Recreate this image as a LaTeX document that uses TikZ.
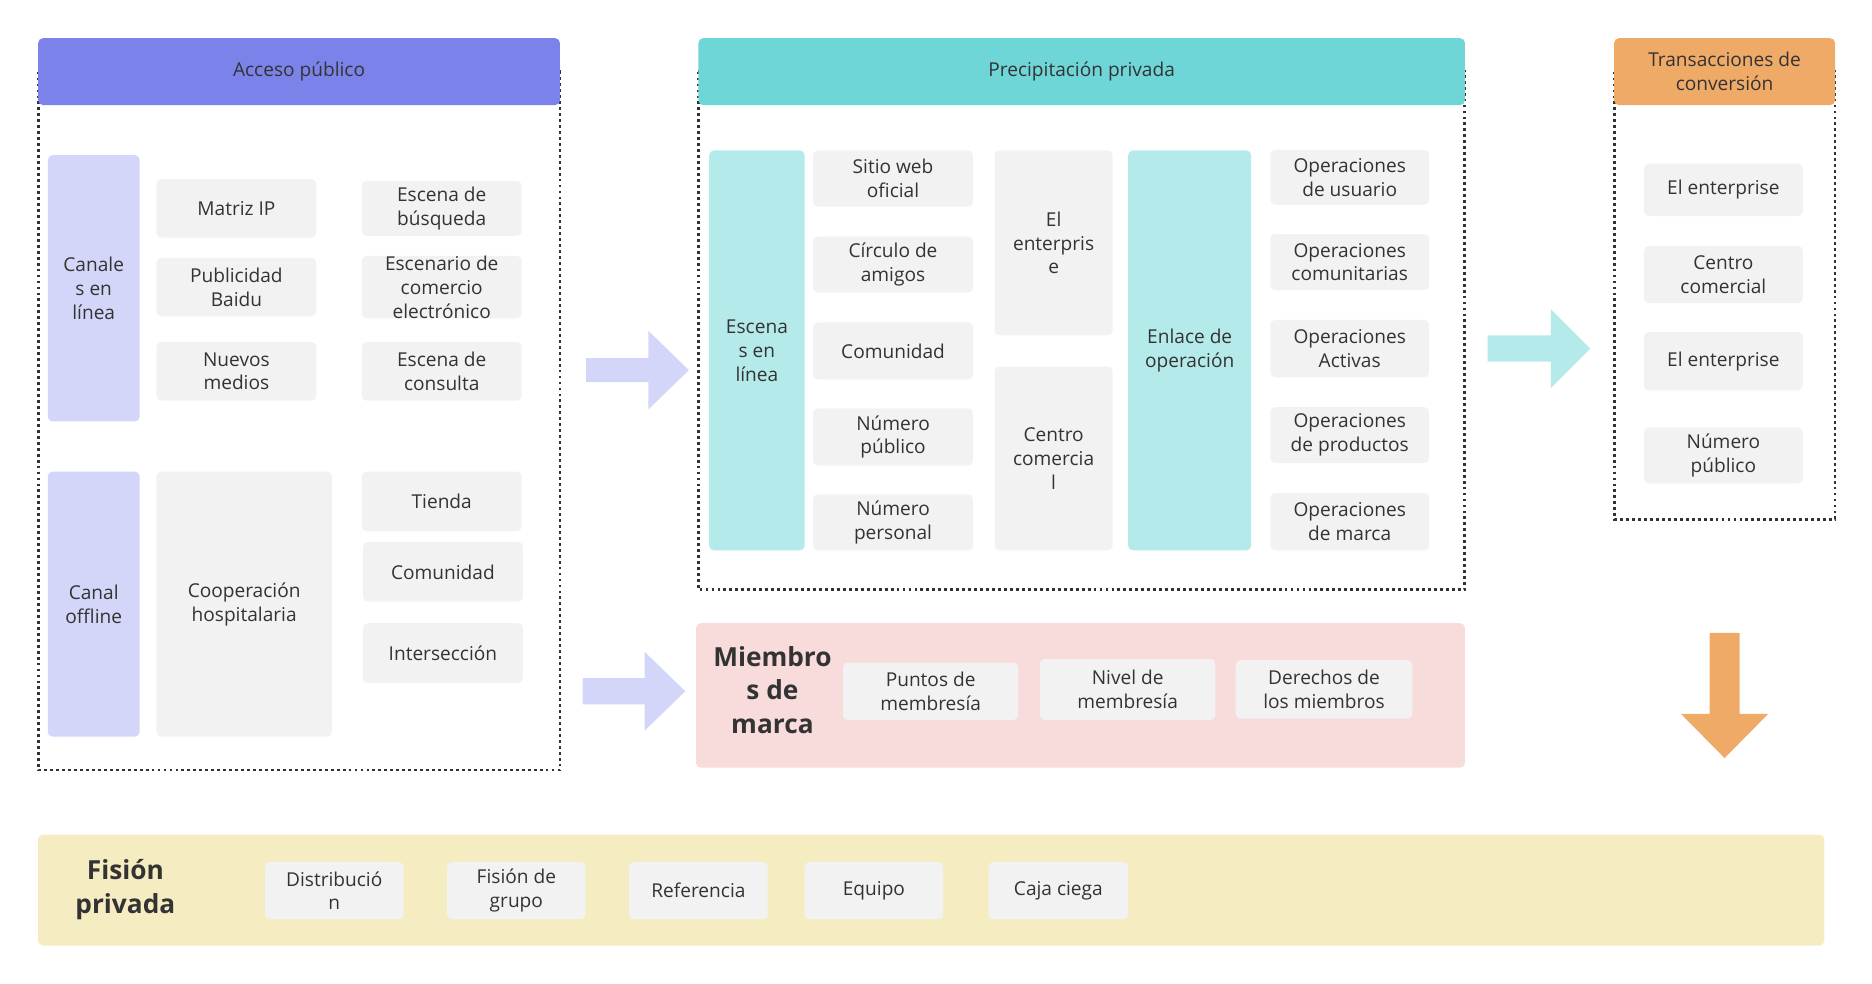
\documentclass[tikz,border=0pt]{standalone}
\usepackage{fontspec}
\setmainfont{Open Sans}
\usepackage{tikz}
\usetikzlibrary{positioning}

\definecolor{txt}{HTML}{333333}
\definecolor{cellgray}{HTML}{F2F2F2}
\definecolor{hdrblue}{HTML}{7B83EB}
\definecolor{lav}{HTML}{D3D6F8}
\definecolor{hdrcyan}{HTML}{6FD6D7}
\definecolor{lcyan}{HTML}{B5EAEA}
\definecolor{hdrorange}{HTML}{F0AA68}
\definecolor{lpink}{HTML}{F8DBDB}
\definecolor{lyellow}{HTML}{F5EDC1}

\begin{document}
\begin{tikzpicture}[
    x=1pt, y=-1pt,
    every node/.style={align=center, text=txt, inner sep=0pt, font=\fontsize{16}{20}\selectfont},
    hdr/.style={fill=#1, rounded corners=4pt, minimum height=56},
    cell/.style={fill=cellgray, rounded corners=4pt},
    side/.style={fill=#1, rounded corners=4pt},
    dotframe/.style={draw=txt, line width=2.4pt, dash pattern=on 2.4pt off 2.6pt},
    big/.style={font=\fontsize{22}{28}\selectfont\bfseries}
]
\useasboundingbox (0,0) rectangle (1568,824);

% Acceso publico
\draw[dotframe] (32,60) rectangle (469,645);
\node[hdr=hdrblue, minimum width=437] (acceso) at (250.5,60) {Acceso público};
\node[side=lav, minimum width=77, minimum height=223] (canales) at (78.5,241.5) {Canale\\s en\\línea};
\node[cell, minimum width=134, minimum height=49] (matriz) at (198,174.5) {Matriz IP};
\node[cell, minimum width=134, minimum height=49] (baidu) at (198,240.5) {Publicidad\\Baidu};
\node[cell, minimum width=134, minimum height=49] (nuevos) at (198,311) {Nuevos\\medios};
\node[cell, minimum width=134, minimum height=46] (busqueda) at (370,174.5) {Escena de\\búsqueda};
\node[cell, minimum width=134, minimum height=49] (ecom) at (370,240.5) {Escenario de\\comercio\\electrónico};
\node[cell, minimum width=134, minimum height=49] (consulta) at (370,311) {Escena de\\consulta};
\node[side=lav, minimum width=77, minimum height=222] (offline) at (78.5,506) {Canal\\offline};
\node[cell, minimum width=147, minimum height=222] (hospital) at (204.5,506) {Cooperación\\hospitalaria};
\node[cell, minimum width=134, minimum height=50] (tienda) at (370,420) {Tienda};
\node[cell, minimum width=134, minimum height=50] (comunidadA) at (371,479) {Comunidad};
\node[cell, minimum width=134, minimum height=50] (interseccion) at (371,547) {Intersección};

% Precipitacion privada
\draw[dotframe] (585,60) rectangle (1227,494);
\node[hdr=hdrcyan, minimum width=642] (precip) at (906,60) {Precipitación privada};
\node[side=lcyan, minimum width=80, minimum height=335] (escenas) at (634,293.5) {Escena\\s en\\línea};
\node[cell, minimum width=134, minimum height=47] (sitio) at (748,149.5) {Sitio web\\oficial};
\node[cell, minimum width=134, minimum height=47] (circulo) at (748,221.5) {Círculo de\\amigos};
\node[cell, minimum width=134, minimum height=48] (comunidadB) at (748,294) {Comunidad};
\node[cell, minimum width=134, minimum height=48] (numpub) at (748,366) {Número\\público};
\node[cell, minimum width=134, minimum height=47] (numper) at (748,437.5) {Número\\personal};
\node[cell, minimum width=99, minimum height=155] (enterprise) at (882.5,203.5) {El\\enterpris\\e};
\node[cell, minimum width=99, minimum height=154] (centro) at (882.5,384) {Centro\\comercia\\l};
\node[side=lcyan, minimum width=103, minimum height=335] (enlace) at (996.5,293.5) {Enlace de\\operación};
\node[cell, minimum width=133, minimum height=46] (opusuario) at (1130.5,148.5) {Operaciones\\de usuario};
\node[cell, minimum width=133, minimum height=47] (opcomun) at (1130.5,219.5) {Operaciones\\comunitarias};
\node[cell, minimum width=133, minimum height=48] (opactiv) at (1130.5,292) {Operaciones\\Activas};
\node[cell, minimum width=133, minimum height=47] (opprod) at (1130.5,364.5) {Operaciones\\de productos};
\node[cell, minimum width=133, minimum height=48] (opmarca) at (1130.5,437) {Operaciones\\de marca};

% Transacciones de conversion
\draw[dotframe] (1352,60) rectangle (1537,435);
\node[hdr=hdrorange, minimum width=185] (trans) at (1444.5,60) {Transacciones de\\conversión};
\node[cell, minimum width=133, minimum height=44] (entA) at (1443.5,159) {El enterprise};
\node[cell, minimum width=133, minimum height=48] (centroB) at (1443.5,230) {Centro\\comercial};
\node[cell, minimum width=133, minimum height=49] (entB) at (1443.5,302.5) {El enterprise};
\node[cell, minimum width=133, minimum height=47] (numpubB) at (1443.5,381.5) {Número\\público};

% Miembros de marca
\node[side=lpink, minimum width=644, minimum height=121] (miembros) at (905,582.5) {};
\node[big] (miembrosT) at (647,578) {Miembro\\s de\\marca};
\node[cell, minimum width=147, minimum height=48] (puntos) at (779.5,579) {Puntos de\\membresía};
\node[cell, minimum width=147, minimum height=51] (nivel) at (944.5,577.5) {Nivel de\\membresía};
\node[cell, minimum width=148, minimum height=49] (derechos) at (1109,577.5) {Derechos de\\los miembros};

% Fision privada
\node[side=lyellow, minimum width=1496, minimum height=93] (fision) at (780,745.5) {};
\node[big] (fisionT) at (105,745) {Fisión\\privada};
\node[cell, minimum width=116, minimum height=48] (distrib) at (280,746) {Distribució\\n};
\node[cell, minimum width=116, minimum height=48] (grupo) at (432.5,746) {Fisión de\\grupo};
\node[cell, minimum width=116, minimum height=48] (referencia) at (585,746) {Referencia};
\node[cell, minimum width=116, minimum height=48] (equipo) at (732,746) {Equipo};
\node[cell, minimum width=117, minimum height=48] (caja) at (886.5,746) {Caja ciega};

% block arrows
\coordinate (arrA) at (491,310);
\coordinate (arrB) at (488,579);
\coordinate (arrC) at (1246,292);
\coordinate (arrD) at (1444.5,530);
\fill[lav] (arrA) ++(0,-10) -- ++(52,0) -- ++(0,-23) -- ++(34,33) -- ++(-34,33) -- ++(0,-23) -- ++(-52,0) -- cycle;
\fill[lav] (arrB) ++(0,-11) -- ++(52,0) -- ++(0,-22) -- ++(34,33) -- ++(-34,33) -- ++(0,-22) -- ++(-52,0) -- cycle;
\fill[lcyan] (arrC) ++(0,-11) -- ++(53,0) -- ++(0,-22) -- ++(33,33) -- ++(-33,33) -- ++(0,-22) -- ++(-53,0) -- cycle;
\fill[hdrorange] (arrD) ++(-12.5,0) -- ++(25,0) -- ++(0,68) -- ++(24,0) -- ++(-36.5,37) -- ++(-36.5,-37) -- ++(24,0) -- cycle;
\end{tikzpicture}
\end{document}
